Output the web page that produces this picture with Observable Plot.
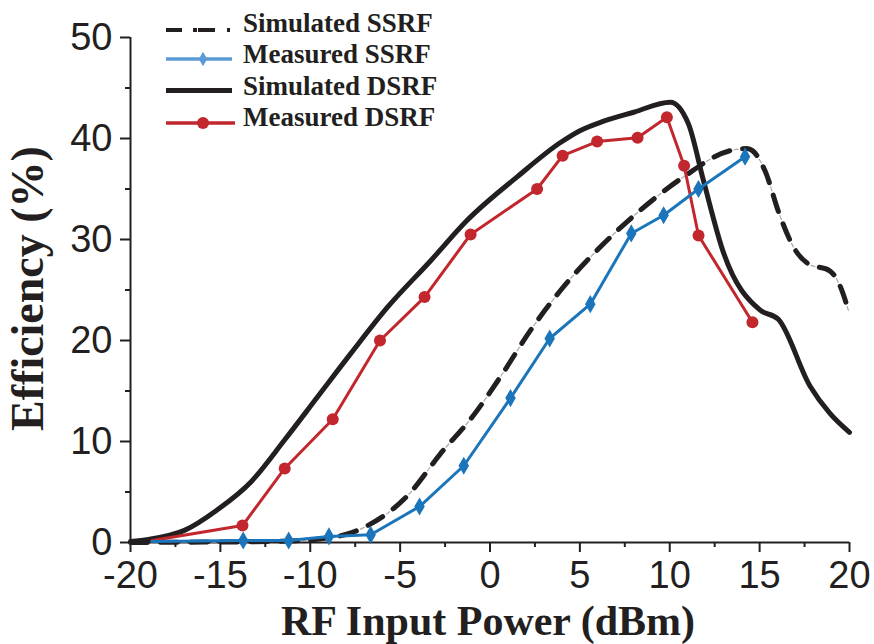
<!DOCTYPE html>
<html>
<head>
<meta charset="utf-8">
<script src="https://cdn.jsdelivr.net/npm/d3@7"></script>
<script src="https://cdn.jsdelivr.net/npm/@observablehq/plot@0.6"></script>
<style>
  html, body { margin: 0; padding: 0; background: #fff; overflow: hidden; }
  #wrap { position: relative; width: 874px; height: 644px; }
  #legend { position: absolute; left: 0; top: 0; }
</style>
</head>
<body>
<div id="wrap"></div>
<script>
// ---- data ----
const simSSRF_x = [-20, -15, -12, -9.8, -7.65, -7.0, -4.5, -2.75, -1.0, 0.58, 2.25, 3.92, 6.05, 8.36, 10.77, 13.36, 14.3, 14.6, 15.3, 16.1, 16.9, 17.7, 18.9, 19.5, 20];
const simSSRF_y = [0, 0.05, 0.1, 0.3, 1.0, 1.5, 4.8, 8.8, 12.4, 16.4, 21.0, 24.95, 29.1, 32.9, 36.2, 38.8, 39.0, 38.8, 36.8, 32.5, 29.2, 27.6, 26.9, 25.3, 22.6];

const meaSSRF_x = [-18.8, -13.73, -11.2, -8.96, -6.64, -3.92, -1.46, 1.14, 3.32, 5.58, 7.86, 9.66, 11.6, 14.19];
const meaSSRF_y = [0.1, 0.2, 0.2, 0.6, 0.76, 3.56, 7.6, 14.3, 20.2, 23.6, 30.6, 32.4, 35.0, 38.2];

const simDSRF_x = [-20, -19, -17, -15.2, -13.3, -11.45, -9.6, -7.75, -5.7, -3.3, -1.27, 1.51, 3.92, 5.03, 6.14, 8.0, 10.03, 11.04, 11.88, 12.99, 15.03, 16.04, 17.8, 18.9, 20];
const simDSRF_y = [0.1, 0.3, 1.2, 3.2, 6.0, 10.1, 14.4, 18.7, 23.3, 27.9, 31.9, 36.2, 39.6, 40.8, 41.6, 42.6, 43.6, 41.45, 35.8, 28.7, 23.0, 22.1, 15.5, 12.8, 10.9];

const meaDSRF_x = [-18.8, -13.77, -11.42, -8.75, -6.12, -3.64, -1.08, 2.62, 4.04, 5.96, 8.21, 9.84, 10.8, 11.6, 14.6];
const meaDSRF_y = [0.2, 1.68, 7.33, 12.2, 20.0, 24.3, 30.5, 35.0, 38.3, 39.7, 40.07, 42.1, 37.3, 30.4, 21.8];

const seriesNames = ["Simulated SSRF", "Measured SSRF", "Simulated DSRF", "Measured DSRF"];
const xTicks = [-20, -15, -10, -5, 0, 5, 10, 15, 20];
const xMinor = [-17.5, -12.5, -7.5, -2.5, 2.5, 7.5, 12.5, 17.5];
const yTicks = [0, 10, 20, 30, 40, 50];
const yMinor = [5, 15, 25, 35, 45];
const xTitle = "RF Input Power (dBm)";
const yTitle = "Efficiency (%)";

// ---- build tables ----
const zip = (xs, ys) => xs.map((x, i) => ({x, y: ys[i], i}));
const simSSRF = zip(simSSRF_x, simSSRF_y);
const meaSSRF = zip(meaSSRF_x, meaSSRF_y);
const simDSRF = zip(simDSRF_x, simDSRF_y);
const meaDSRF = zip(meaDSRF_x, meaDSRF_y);

const INK = "#231f20";
const RED = "#c1272d";
const BLUE = "#1b75bb";
const BLUE_LEG = "#5b9bd5";
const SERIF = "'Liberation Serif', 'Times New Roman', serif";
const SANS = "'Liberation Sans', Arial, sans-serif";

const chart = Plot.plot({
  width: 874,
  height: 644,
  marginLeft: 130,
  marginRight: 25,
  marginTop: 37,
  marginBottom: 102,
  x: {domain: [-20, 20]},
  y: {domain: [0, 50]},
  style: {fontFamily: SANS, background: "#fff", overflow: "visible"},
  marks: [
    // axes
    Plot.axisX(xTicks, {tickSize: 10, tickPadding: 9, fontSize: 38, tickFormat: d => String(d), label: null, color: INK, strokeWidth: 2}),
    Plot.axisX(xMinor, {tickSize: 5, tickFormat: () => "", label: null, color: INK, strokeWidth: 2}),
    Plot.axisY(yTicks, {tickSize: 10, tickPadding: 8, fontSize: 38, tickFormat: d => String(d), label: null, color: INK, strokeWidth: 2}),
    Plot.axisY(yMinor, {tickSize: 5, tickFormat: () => "", label: null, color: INK, strokeWidth: 2}),
    Plot.ruleY([0], {stroke: INK, strokeWidth: 2}),
    Plot.ruleX([-20], {stroke: INK, strokeWidth: 2}),
    // titles
    Plot.text([xTitle], {frameAnchor: "bottom", textAnchor: "middle", lineAnchor: "middle", dy: 79, dx: -2, fontSize: 42, fontWeight: "bold", fontFamily: SERIF, fill: INK}),
    Plot.text([yTitle], {frameAnchor: "left", textAnchor: "middle", lineAnchor: "middle", rotate: -90, dx: -102, dy: -1.5, fontSize: 46, fontWeight: "bold", fontFamily: SERIF, fill: INK}),
    // simulated SSRF (dash with faint dots)
    Plot.line(simSSRF, {x: "x", y: "y", curve: "monotone-x", stroke: "#aaa", strokeWidth: 1.2, strokeDasharray: "0,21.5,4,4.5"}),
    Plot.line(simSSRF, {x: "x", y: "y", curve: "monotone-x", stroke: INK, strokeWidth: 5, strokeDasharray: "17,13"}),
    // simulated DSRF
    Plot.line(simDSRF, {x: "x", y: "y", curve: "monotone-x", stroke: INK, strokeWidth: 5}),
    // measured DSRF
    Plot.line(meaDSRF, {x: "x", y: "y", stroke: RED, strokeWidth: 3}),
    Plot.dot(meaDSRF.filter(d => d.i > 0), {x: "x", y: "y", r: 6, fill: RED, stroke: "none"}),
    // measured SSRF
    Plot.line(meaSSRF, {x: "x", y: "y", stroke: BLUE, strokeWidth: 3}),
    Plot.dot(meaSSRF.filter(d => d.i > 0), {x: "x", y: "y", r: 5.5, symbol: "diamond", fill: BLUE, stroke: "none"})
  ]
});

const wrap = document.getElementById("wrap");
wrap.appendChild(chart);

// ---- legend overlay ----
const leg = d3.select(wrap).append("svg")
  .attr("id", "legend")
  .attr("width", 874).attr("height", 140);

const rows = [
  {name: seriesNames[0], base: 31.5, ly: 30},
  {name: seriesNames[1], base: 62.5, ly: 59},
  {name: seriesNames[2], base: 94.5, ly: 90.5},
  {name: seriesNames[3], base: 126, ly: 123}
];
rows.forEach((r, k) => {
  const g = leg.append("g");
  if (k === 0) {
    g.append("line").attr("x1", 166).attr("x2", 232).attr("y1", r.ly).attr("y2", r.ly)
      .attr("stroke", INK).attr("stroke-width", 4).attr("stroke-dasharray", "16,11,4,1,17,12,3,10");
  } else if (k === 1) {
    g.append("line").attr("x1", 166).attr("x2", 232).attr("y1", r.ly).attr("y2", r.ly)
      .attr("stroke", BLUE_LEG).attr("stroke-width", 3.5);
    g.append("path").attr("d", d3.symbol(d3.symbolDiamond, 60)()).attr("transform", `translate(203,${r.ly})`).attr("fill", BLUE_LEG);
  } else if (k === 2) {
    g.append("line").attr("x1", 166).attr("x2", 232).attr("y1", r.ly).attr("y2", r.ly)
      .attr("stroke", INK).attr("stroke-width", 5);
  } else {
    g.append("line").attr("x1", 166).attr("x2", 235).attr("y1", r.ly).attr("y2", r.ly)
      .attr("stroke", RED).attr("stroke-width", 3.5);
    g.append("circle").attr("cx", 203).attr("cy", r.ly).attr("r", 6).attr("fill", RED);
  }
  g.append("text").attr("x", 243).attr("y", r.base).text(r.name)
    .attr("font-family", SERIF).attr("font-weight", "bold").attr("font-size", 27).attr("fill", INK);
});
</script>
</body>
</html>
